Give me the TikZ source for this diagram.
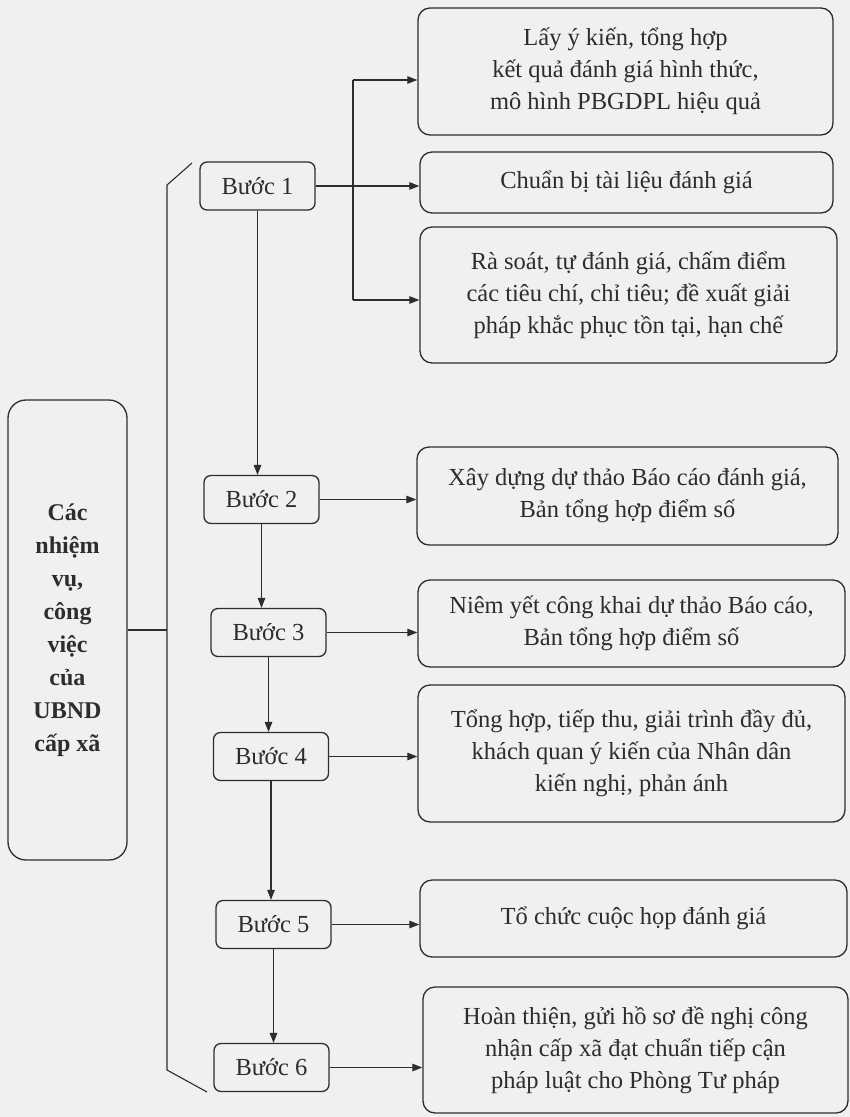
\documentclass[tikz,border=0pt]{standalone}
\usepackage{fontspec}
\setmainfont{Liberation Serif}
\usetikzlibrary{arrows.meta}
\definecolor{inkc}{RGB}{45,45,45}
\definecolor{paper}{RGB}{240,240,238}
\begin{document}
\begin{tikzpicture}[x=1pt,y=-1pt,
  every node/.style={inner sep=0pt, text=inkc},
  txt/.style={font=\fontsize{24.5}{32}\selectfont, align=center},
  rbox/.style={draw=inkc, line width=1.3pt, rounded corners=12pt, txt},
  stepbox/.style={draw=inkc, line width=1.3pt, rounded corners=7pt, txt, minimum width=115pt, minimum height=48pt},
  lbox/.style={draw=inkc, line width=1.3pt, rounded corners=18pt, font=\bfseries\fontsize{24}{33}\selectfont, align=center, minimum width=119pt, minimum height=460pt},
  conn/.style={draw=inkc, line width=1.1pt},
  arr/.style={conn, -{Triangle[length=10pt,width=7.5pt]}}
]
\fill[paper] (0,0) rectangle (850,1117);
\useasboundingbox (0,0) rectangle (850,1117);

% left box
\node[lbox] (L) at (67.5,630) {Các\\nhiệm\\vụ,\\công\\việc\\của\\UBND\\cấp xã};

% step boxes
\node[stepbox] (B1) at (257.5,186) {Bước 1};
\node[stepbox] (B2) at (261.5,499.5) {Bước 2};
\node[stepbox] (B3) at (268.5,632.5) {Bước 3};
\node[stepbox] (B4) at (271,756.5) {Bước 4};
\node[stepbox] (B5) at (273.5,924.5) {Bước 5};
\node[stepbox] (B6) at (271.5,1067.5) {Bước 6};

% right boxes
\node[rbox, minimum width=415pt, minimum height=127pt] (R1) at (625.5,71.5)
  {Lấy ý kiến, tổng hợp\\kết quả đánh giá hình thức,\\mô hình PBGDPL hiệu quả};
\node[rbox, minimum width=413pt, minimum height=61pt] (R2) at (626.5,182.5)
  {Chuẩn bị tài liệu đánh giá};
\node[rbox, minimum width=417pt, minimum height=136pt] (R3) at (628.5,295)
  {Rà soát, tự đánh giá, chấm điểm\\các tiêu chí, chỉ tiêu; đề xuất giải\\pháp khắc phục tồn tại, hạn chế};
\node[rbox, minimum width=421pt, minimum height=98pt] (R4) at (627.5,496)
  {Xây dựng dự thảo Báo cáo đánh giá,\\Bản tổng hợp điểm số};
\node[rbox, minimum width=427pt, minimum height=87pt] (R5) at (631.5,623.5)
  {Niêm yết công khai dự thảo Báo cáo,\\Bản tổng hợp điểm số};
\node[rbox, minimum width=427pt, minimum height=137pt] (R6) at (631.5,753.5)
  {Tổng hợp, tiếp thu, giải trình đầy đủ,\\khách quan ý kiến của Nhân dân\\kiến nghị, phản ánh};
\node[rbox, minimum width=427pt, minimum height=77pt] (R7) at (633.5,918.5)
  {Tổ chức cuộc họp đánh giá};
\node[rbox, minimum width=425pt, minimum height=126pt] (R8) at (635.5,1050)
  {Hoàn thiện, gửi hồ sơ đề nghị công\\nhận cấp xã đạt chuẩn tiếp cận\\pháp luật cho Phòng Tư pháp};

% bracket from left box
\coordinate (bt) at (192,163);
\coordinate (bt2) at (167,185);
\coordinate (bb2) at (167,1070);
\coordinate (bb) at (207,1092);
\draw[conn] (bt) -- (bt2) -- (bb2) -- (bb);
\draw[conn] (L.east) -- (L.east -| bt2);

% vertical flow
\draw[arr] (B1.south) -- (B1.south |- B2.north);
\draw[arr] (B2.south) -- (B2.south |- B3.north);
\draw[arr] (B3.south) -- (B3.south |- B4.north);
\draw[arr] (B4.south) -- (B4.south |- B5.north);
\draw[arr] (B5.south) -- (B5.south |- B6.north);

% step 1 branches
\coordinate (j1) at (353,80);
\coordinate (j3) at (353,300);
\draw[conn] (j1) -- (j3);
\draw[arr] (j1) -- (j1 -| R1.west);
\draw[arr] (j3) -- (j3 -| R3.west);
\draw[arr] (B1.east) -- (B1.east -| R2.west);

% other horizontal arrows
\draw[arr] (B2.east) -- (B2.east -| R4.west);
\draw[arr] (B3.east) -- (B3.east -| R5.west);
\draw[arr] (B4.east) -- (B4.east -| R6.west);
\draw[arr] (B5.east) -- (B5.east -| R7.west);
\draw[arr] (B6.east) -- (B6.east -| R8.west);
\end{tikzpicture}
\end{document}
